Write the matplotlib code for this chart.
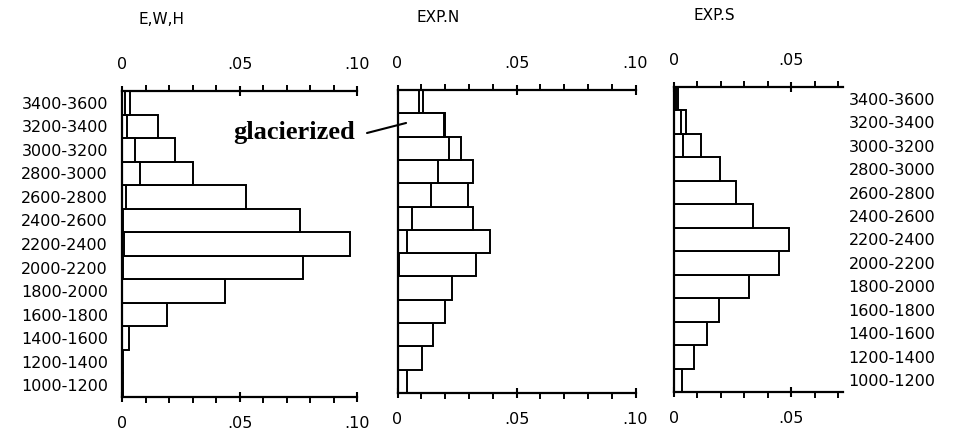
import matplotlib
matplotlib.use("Agg")
import matplotlib.pyplot as plt
from matplotlib.ticker import FixedLocator
import numpy as np

# Elevation bins (bottom to top)
bin_lows = [1000, 1200, 1400, 1600, 1800, 2000, 2200, 2400, 2600, 2800, 3000, 3200, 3400]
bin_labels = [f"{lo}-{lo + 200}" for lo in bin_lows]

titles = ["E,W,H", "EXP.N", "EXP.S"]

# total area fraction per bin
ewh_total = [0.0006, 0.0006, 0.0031, 0.0190, 0.0438, 0.0769, 0.0970, 0.0757, 0.0526, 0.0303, 0.0226, 0.0155, 0.0034]
expn_total = [0.0039, 0.0102, 0.0148, 0.0200, 0.0228, 0.0329, 0.0389, 0.0316, 0.0298, 0.0316, 0.0266, 0.0200, 0.0109]
exps_total = [0.0036, 0.0087, 0.0140, 0.0190, 0.0318, 0.0449, 0.0489, 0.0335, 0.0265, 0.0194, 0.0114, 0.0051, 0.0015]

# glacierized fraction per bin
ewh_glac = [0.0, 0.0, 0.0, 0.0, 0.0, 0.0003, 0.0007, 0.0006, 0.0016, 0.0077, 0.0055, 0.0023, 0.0012]
expn_glac = [0.0, 0.0, 0.0, 0.0, 0.0, 0.0006, 0.0039, 0.0060, 0.0140, 0.0172, 0.0217, 0.0194, 0.0092]
exps_glac = [0.0, 0.0, 0.0, 0.0, 0.0, 0.0, 0.0, 0.0, 0.0, 0.0, 0.0040, 0.0028, 0.0010]

xmax = [0.10, 0.10, 0.072]
major_ticks = [[0, 0.05, 0.10], [0, 0.05, 0.10], [0, 0.05]]
major_labels = [["0", ".05", ".10"], ["0", ".05", ".10"], ["0", ".05"]]
minor_max = [0.10, 0.10, 0.07]

W, H = 959, 438
fig = plt.figure(figsize=(W / 100, H / 100), dpi=100)

# axes boxes in pixels: left, top, right(x at xmax), bottom
boxes = [(122, 91, 357, 397), (397.5, 90, 635.5, 393), (674, 87, 843, 392)]

totals = [ewh_total, expn_total, exps_total]
glacs = [ewh_glac, expn_glac, exps_glac]

lw = 1.4
axes = []
for i in range(3):
    l, t, r, b = boxes[i]
    ax = fig.add_axes([l / W, 1 - b / H, (r - l) / W, (b - t) / H])
    axes.append(ax)
    centers = np.array(bin_lows) + 100
    ax.barh(centers, totals[i], height=200, left=0, color="white",
            edgecolor="black", linewidth=lw, zorder=2)
    g = np.array(glacs[i])
    mask = g > 0
    ax.barh(centers[mask], g[mask], height=200, left=0, color="white",
            edgecolor="black", linewidth=lw, zorder=3)
    ax.set_xlim(0, xmax[i])
    ax.set_ylim(1000, 3600)
    for s in ["left", "top", "bottom"]:
        ax.spines[s].set_linewidth(1.6)
        ax.spines[s].set_zorder(5)
    ax.spines["right"].set_visible(False)

    ax.xaxis.set_major_locator(FixedLocator(major_ticks[i]))
    ax.set_xticklabels(major_labels[i])
    minors = [round(0.01 * k, 2) for k in range(1, int(round(minor_max[i] / 0.01)) + 1)]
    minors = [m for m in minors if m not in major_ticks[i]]
    ax.xaxis.set_minor_locator(FixedLocator(minors))
    ax.tick_params(axis="x", which="major", top=True, bottom=True,
                   labeltop=True, labelbottom=True, direction="inout",
                   length=7, width=1.5, pad=10, labelsize=11.5)
    ax.tick_params(axis="x", which="minor", top=True, bottom=True,
                   direction="out", length=4.5, width=1.4)

    ax.set_yticks(centers)
    ax.set_yticklabels(bin_labels)
    if i == 0:
        ax.tick_params(axis="y", left=False, right=False, labelleft=True,
                       labelright=False, length=0, pad=10, labelsize=11.5)
    elif i == 1:
        ax.tick_params(axis="y", left=False, right=False, labelleft=False,
                       labelright=False, length=0)
    else:
        ax.tick_params(axis="y", left=False, right=False, labelleft=False,
                       labelright=True, length=0, pad=4, labelsize=11.5)

# titles
title_pos = [(161, 20), (438, 18), (714, 15)]
for (x, y), tt in zip(title_pos, titles):
    fig.text(x / W, 1 - y / H, tt, ha="center", va="center", fontsize=11,
             family="DejaVu Sans")

# glacierized annotation
fig.text(355 / W, 1 - 133 / H, "glacierized", ha="right", va="center",
         family="Liberation Serif", fontweight="bold", fontsize=19)
axes[1].annotate("", xy=(0.0036, 3317), xycoords="data",
                 xytext=(367, H - 133), textcoords="figure pixels",
                 arrowprops=dict(arrowstyle="-", lw=1.5, color="black",
                                 shrinkA=0, shrinkB=0), zorder=6)

fig.savefig("out.png", dpi=100)
